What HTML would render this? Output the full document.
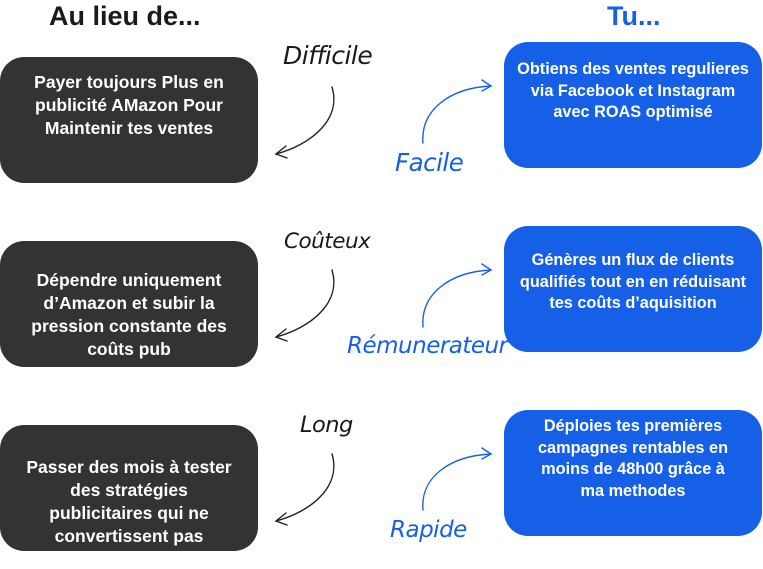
<!DOCTYPE html>
<html><head><meta charset="utf-8"><style>
html,body{margin:0;padding:0;background:#fff;}
body{width:763px;height:569px;position:relative;overflow:hidden;font-family:"Liberation Sans","DejaVu Sans",sans-serif;}
.b{position:absolute;border-radius:24px;color:#fff;font-weight:bold;text-align:center;box-sizing:border-box;}
.d{background:#333333;left:0;width:258px;height:126px;font-size:17.5px;line-height:23px;}
.u{background:#1660e8;left:504px;width:258px;height:126px;font-size:16.3px;line-height:21.5px;}
.t{position:absolute;white-space:nowrap;}
.h{font-weight:bold;font-size:27px;}
.s{font-family:"DejaVu Sans",sans-serif;font-style:italic;font-size:22.5px;letter-spacing:-0.5px;}
</style></head><body>
<div class="t h" style="left:49px;top:1px;color:#1a1a1a">Au lieu de...</div>
<div class="t h" style="left:607px;top:1px;color:#1660e8">Tu...</div>

<div class="b d" style="top:57px;padding-top:14px">Payer toujours Plus en<br>publicité AMazon Pour<br>Maintenir tes ventes</div>
<div class="b d" style="top:241px;padding-top:28px">Dépendre uniquement<br>d’Amazon et subir la<br>pression constante des<br>coûts pub</div>
<div class="b d" style="top:425px;padding-top:31px">Passer des mois à tester<br>des stratégies<br>publicitaires qui ne<br>convertissent pas</div>

<div class="b u" style="top:42px;padding-top:17px">Obtiens des ventes regulieres<br>via Facebook et Instagram<br>avec ROAS optimisé</div>
<div class="b u" style="top:226px;padding-top:24px">Génères un flux de clients<br>qualifiés tout en en réduisant<br>tes coûts d’aquisition</div>
<div class="b u" style="top:410px;padding-top:6px">Déploies tes premières<br>campagnes rentables en<br>moins de 48h00 grâce à<br>ma methodes</div>

<div class="t s" style="left:283px;top:41px;color:#1a1a1a;font-size:25px">Difficile</div>
<div class="t s" style="left:395px;top:148px;color:#1660e8;font-size:24.5px">Facile</div>
<div class="t s" style="left:284px;top:229px;color:#1a1a1a;font-size:21.5px">Coûteux</div>
<div class="t s" style="left:347px;top:333px;color:#1660e8;font-size:23px">Rémunerateur</div>
<div class="t s" style="left:300px;top:412px;color:#1a1a1a">Long</div>
<div class="t s" style="left:390px;top:517px;color:#1660e8;font-size:23px">Rapide</div>

<svg width="763" height="569" style="position:absolute;left:0;top:0" fill="none" stroke-width="1.4" stroke-linecap="round">
<g stroke="#222">
<path d="M332 87 C342 120 310 145 276 154"/><path d="M286 146 L276 154 L287 158"/>
<path d="M332 270 C342 303 310 328 276 337"/><path d="M286 329 L276 337 L287 341"/>
<path d="M332 454 C342 487 310 512 276 521"/><path d="M286 513 L276 521 L287 525"/>
</g>
<g stroke="#1660e8">
<path d="M423 143 C420 110 450 88 491 86"/><path d="M482 80 L491 86 L482 91"/>
<path d="M423 327 C420 294 450 272 491 270"/><path d="M482 264 L491 270 L482 275"/>
<path d="M423 510 C420 477 450 456 491 454"/><path d="M482 448 L491 454 L482 459"/>
</g>
</svg>
</body></html>
